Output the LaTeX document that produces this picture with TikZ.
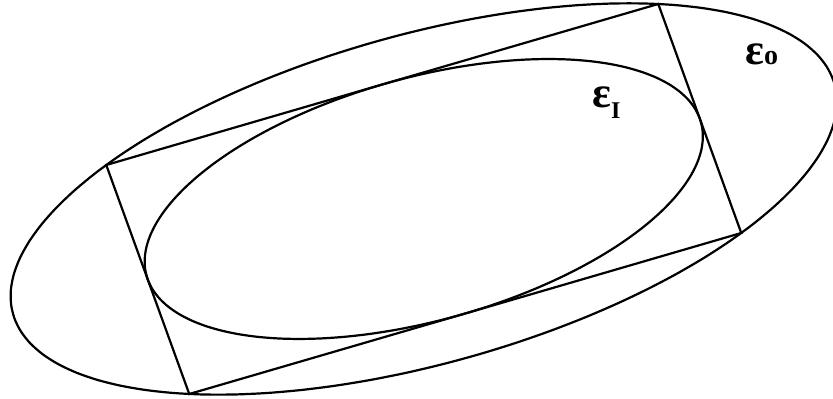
\documentclass[tikz,border=0pt]{standalone}
\usepackage{fontspec}
\setmainfont{Liberation Serif}
\usepackage{tikz}
\usetikzlibrary{calc,positioning}
\tikzset{
  curve/.style={draw=black,line width=1.1pt},
  edge/.style={draw=black,line width=1.1pt,line join=miter},
  setlab/.style={font=\fontsize{22}{24}\selectfont\bfseries,inner sep=0pt,anchor=base west}
}
% centre and half sides of the parallelogram
\newcommand{\cx}{423.75}
\newcommand{\cy}{200}

\begin{document}
\begin{tikzpicture}[x=0.5pt,y=0.5pt]
  \useasboundingbox (0,0) rectangle (833,399);
  \coordinate (c) at (\cx,\cy);
  \coordinate (tl) at ($(c)+(-276,-80.5)+(-41.5,114.5)$);
  \coordinate (tr) at ($(c)+(276,80.5)+(-41.5,114.5)$);
  \coordinate (br) at ($(c)+(276,80.5)-(-41.5,114.5)$);
  \coordinate (bl) at ($(c)-(276,80.5)-(-41.5,114.5)$);
  % outer ellipse through the corners
  \draw[curve] plot[smooth cycle,domain=0:355,samples=72,variable=\t]
    ({\cx+1.483*276*cos(\t)-1.354*41.5*sin(\t)},{\cy+1.483*80.5*cos(\t)+1.354*114.5*sin(\t)});
  % inner ellipse touching the sides
  \draw[curve] plot[smooth cycle,domain=0:355,samples=72,variable=\t]
    ({\cx+276*cos(\t)-41.5*sin(\t)},{\cy+80.5*cos(\t)+114.5*sin(\t)});
  \draw[edge] (tl)--(tr)--(br)--(bl)--cycle;
  \node[setlab] (epsI) at (592,291) {ε\raisebox{-0.25em}{\fontsize{12}{12}\selectfont\bfseries I}};
  \node[setlab] (epsO) at (745,334) {ε\fontsize{14}{14}\selectfont\bfseries o};
\end{tikzpicture}
\end{document}
